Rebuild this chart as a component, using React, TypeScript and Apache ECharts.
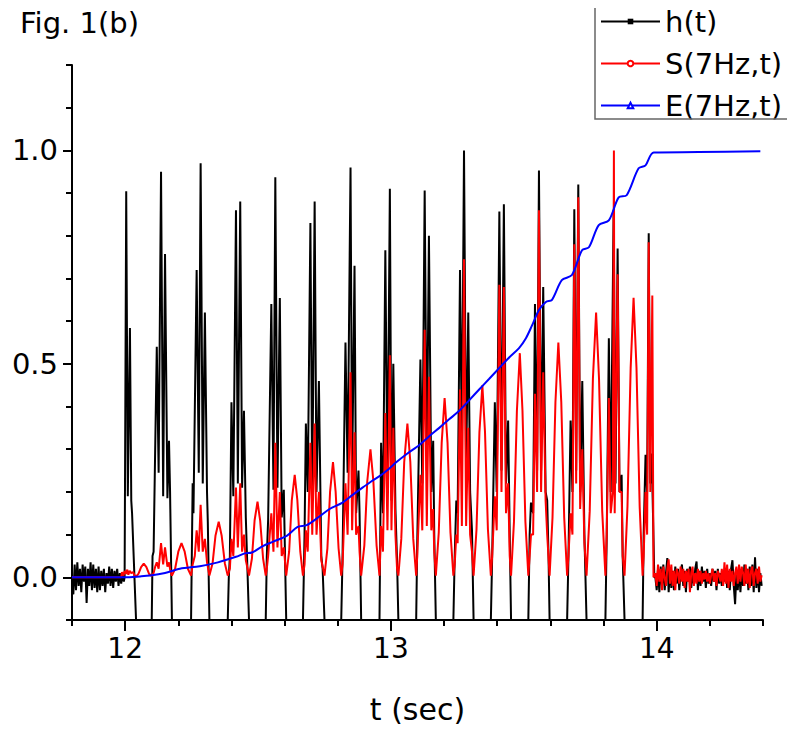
import React, { useEffect, useRef } from 'react';
import * as echarts from 'echarts';

const FONT = 'DejaVu Sans';

// Axis ticks and labels
const xMajorTicks = [12, 13, 14];
const xMinorTicks = [11.8, 12.2, 12.4, 12.6, 12.8, 13.2, 13.4, 13.6, 13.8, 14.2, 14.4];
const yMajorTicks = [0, 0.5, 1.0];
const yMinorTicks = [-0.1, 0.1, 0.2, 0.3, 0.4, 0.6, 0.7, 0.8, 0.9, 1.1, 1.2];

const seriesNames = ['h(t)', 'S(7Hz,t)', 'E(7Hz,t)'];

// sampling step of the noisy stretches (sec)
const NOISE_DT = 0.005;
const hPreNoiseStart = 11.8;
const hPreNoise = [
  0.0, -0.04, 0.03, -0.03, 0.035, -0.02, 0.02, -0.035, 0.03, -0.01,
  0.025, -0.06, 0.02, -0.02, 0.035, -0.03, 0.03, -0.025, 0.02, -0.035,
  0.025, -0.03, 0.015, -0.02, 0.02, -0.035, 0.01, -0.015, 0.025, -0.02,
  0.02, -0.025, 0.015, -0.01, 0.02, -0.02, 0.01, -0.015, 0.005, -0.01,
];

// h(t) bursts: [t, value]
const hBursts = [
  [11.998, 0.0], [12.004, 0.904], [12.010, 0.19], [12.018, 0.584], [12.023, 0.18], [12.026, 0.15], [12.041, -0.1], [12.071, -0.6],
  [12.100, -0.1], [12.103, 0.05], [12.107, 0.06], [12.119, 0.54], [12.126, 0.245], [12.135, 0.95], [12.143, 0.19], [12.150, 0.757], [12.159, 0.185], [12.165, 0.32], [12.169, 0.2], [12.176, -0.1], [12.212, -0.6],
  [12.248, -0.1], [12.254, 0.22], [12.257, 0.15], [12.269, 0.72], [12.277, 0.245], [12.284, 0.97], [12.292, 0.22], [12.300, 0.62], [12.308, 0.2], [12.311, 0.13], [12.317, -0.1], [12.353, -0.6],
  [12.386, -0.1], [12.390, 0.0], [12.394, 0.05], [12.400, 0.41], [12.407, 0.19], [12.417, 0.86], [12.424, 0.22], [12.433, 0.88], [12.440, 0.21], [12.447, 0.39], [12.454, 0.14], [12.466, -0.1], [12.497, -0.6],
  [12.529, -0.1], [12.533, 0.05], [12.538, 0.135], [12.550, 0.64], [12.558, 0.205], [12.565, 0.937], [12.573, 0.21], [12.582, 0.654], [12.589, 0.14], [12.597, 0.205], [12.600, 0.1], [12.606, -0.1], [12.638, -0.6],
  [12.669, -0.1], [12.675, 0.1], [12.680, 0.36], [12.687, 0.2], [12.697, 0.83], [12.704, 0.19], [12.713, 0.88], [12.720, 0.2], [12.729, 0.46], [12.738, 0.05], [12.743, 0.02], [12.750, -0.1], [12.780, -0.6],
  [12.813, -0.1], [12.818, 0.05], [12.829, 0.55], [12.837, 0.245], [12.848, 0.96], [12.854, 0.23], [12.863, 0.73], [12.869, 0.15], [12.878, 0.25], [12.882, 0.15], [12.888, -0.1], [12.923, -0.6],
  [12.957, -0.1], [12.963, 0.315], [12.970, 0.15], [12.979, 0.766], [12.987, 0.2], [12.996, 0.91], [13.002, 0.18], [13.009, 0.5], [13.017, 0.16], [13.023, 0.04], [13.028, -0.1], [13.062, -0.6],
  [13.095, -0.1], [13.099, 0.08], [13.111, 0.51], [13.118, 0.22], [13.127, 0.906], [13.135, 0.25], [13.143, 0.8], [13.152, 0.2], [13.159, 0.32], [13.163, 0.1], [13.169, -0.1], [13.203, -0.6],
  [13.235, -0.1], [13.240, 0.05], [13.246, 0.18], [13.251, 0.15], [13.260, 0.72], [13.267, 0.3], [13.275, 1.0], [13.283, 0.25], [13.291, 0.62], [13.298, 0.2], [13.305, 0.11], [13.311, -0.1], [13.343, -0.6],
  [13.376, -0.1], [13.381, 0.05], [13.391, 0.41], [13.398, 0.2], [13.408, 0.857], [13.416, 0.25], [13.425, 0.874], [13.433, 0.22], [13.441, 0.367], [13.447, 0.1], [13.452, -0.1], [13.486, -0.6],
  [13.517, -0.1], [13.522, 0.1], [13.527, 0.175], [13.535, 0.15], [13.542, 0.64], [13.550, 0.25], [13.557, 0.953], [13.565, 0.25], [13.573, 0.68], [13.582, 0.2], [13.588, 0.18], [13.593, 0.05], [13.597, -0.1], [13.630, -0.6],
  [13.663, -0.1], [13.668, 0.05], [13.676, 0.367], [13.683, 0.2], [13.690, 0.862], [13.697, 0.25], [13.705, 0.92], [13.712, 0.2], [13.720, 0.46], [13.728, 0.1], [13.736, -0.1], [13.771, -0.6],
  [13.807, -0.1], [13.812, 0.1], [13.820, 0.56], [13.827, 0.2], [13.838, 0.86], [13.845, 0.22], [13.853, 0.77], [13.860, 0.2], [13.868, 0.24], [13.872, 0.05], [13.879, -0.1], [13.912, -0.6],
  [13.947, -0.1], [13.951, 0.1], [13.958, 0.287], [13.964, 0.2], [13.970, 0.806], [13.976, 0.22], [13.981, 0.29], [13.985, 0.18], [13.991, 0.0],
];

const postNoiseStart = 13.995;
const hPostNoise = [
  0.0, -0.03, 0.02, -0.035, 0.025, -0.02, 0.03, -0.03, 0.01, 0.045,
  -0.035, 0.02, -0.025, 0.015, -0.03, 0.025, -0.015, 0.02, -0.03, 0.01,
  0.03, -0.02, 0.015, -0.035, 0.02, -0.01, 0.025, -0.025, 0.01, -0.015,
  0.02, 0.037, -0.03, 0.015, -0.02, 0.025, -0.01, 0.015, -0.025, 0.02,
  -0.015, 0.01, -0.02, 0.02, -0.01, 0.015, -0.03, 0.02, -0.015, 0.01,
  -0.02, 0.015, -0.01, 0.02, -0.025, 0.015, -0.03, 0.02, 0.04, -0.02,
  -0.063, 0.01, -0.03, 0.02, -0.035, 0.015, -0.02, 0.03, -0.015, 0.02,
  -0.03, 0.025, -0.02, 0.03, -0.035, 0.047, -0.025, 0.02, -0.035, 0.01,
  -0.02,
];

// S(7Hz,t): [t, value]
const sMain = [
  [11.8, 0.0], [11.985, 0.0], [11.988, 0.012], [11.994, 0.004], [11.998, 0.015], [12.003, 0.008], [12.008, 0.018], [12.012, 0.006], [12.017, 0.015], [12.023, 0.01], [12.030, 0.012], [12.036, 0.004], [12.041, 0.002],
  [12.050, 0.008], [12.060, 0.024], [12.070, 0.032], [12.080, 0.024], [12.090, 0.008], [12.100, 0.003],
  [12.107, 0.01], [12.113, 0.025], [12.119, 0.035], [12.126, 0.02], [12.135, 0.08], [12.143, 0.03], [12.150, 0.07], [12.159, 0.025], [12.165, 0.035], [12.170, 0.015], [12.176, 0.004],
  [12.188, 0.02], [12.200, 0.06], [12.212, 0.08], [12.224, 0.06], [12.236, 0.02], [12.248, 0.004],
  [12.254, 0.03], [12.262, 0.05], [12.269, 0.11], [12.277, 0.06], [12.284, 0.17], [12.292, 0.06], [12.300, 0.09], [12.308, 0.035], [12.317, 0.004],
  [12.329, 0.033], [12.340, 0.098], [12.352, 0.13], [12.363, 0.098], [12.375, 0.033], [12.386, 0.004],
  [12.394, 0.02], [12.400, 0.09], [12.407, 0.05], [12.417, 0.21], [12.424, 0.07], [12.433, 0.22], [12.440, 0.06], [12.447, 0.1], [12.454, 0.04], [12.466, 0.004],
  [12.477, 0.044], [12.487, 0.133], [12.498, 0.177], [12.508, 0.133], [12.519, 0.044], [12.529, 0.004],
  [12.533, 0.02], [12.538, 0.05], [12.550, 0.15], [12.558, 0.06], [12.565, 0.315], [12.573, 0.07], [12.582, 0.2], [12.589, 0.05], [12.597, 0.07], [12.606, 0.004],
  [12.617, 0.06], [12.627, 0.18], [12.638, 0.24], [12.648, 0.18], [12.659, 0.06], [12.669, 0.004],
  [12.675, 0.03], [12.680, 0.11], [12.687, 0.06], [12.697, 0.315], [12.704, 0.1], [12.713, 0.36], [12.720, 0.1], [12.729, 0.2], [12.738, 0.04], [12.750, 0.004],
  [12.761, 0.068], [12.771, 0.2], [12.782, 0.27], [12.792, 0.2], [12.803, 0.068], [12.813, 0.004],
  [12.818, 0.03], [12.829, 0.22], [12.837, 0.1], [12.848, 0.48], [12.854, 0.11], [12.863, 0.34], [12.869, 0.1], [12.878, 0.12], [12.882, 0.06], [12.888, 0.004],
  [12.900, 0.075], [12.911, 0.225], [12.923, 0.30], [12.934, 0.225], [12.946, 0.075], [12.957, 0.004],
  [12.963, 0.12], [12.970, 0.06], [12.979, 0.385], [12.987, 0.11], [12.996, 0.52], [13.002, 0.11], [13.009, 0.35], [13.017, 0.1], [13.023, 0.02], [13.028, 0.004],
  [13.039, 0.09], [13.050, 0.27], [13.062, 0.36], [13.073, 0.27], [13.084, 0.09], [13.095, 0.004],
  [13.099, 0.05], [13.111, 0.24], [13.118, 0.11], [13.127, 0.58], [13.135, 0.12], [13.143, 0.47], [13.152, 0.11], [13.159, 0.16], [13.163, 0.06], [13.169, 0.004],
  [13.180, 0.105], [13.191, 0.315], [13.202, 0.42], [13.213, 0.315], [13.224, 0.105], [13.235, 0.004],
  [13.240, 0.03], [13.246, 0.1], [13.251, 0.08], [13.260, 0.44], [13.267, 0.12], [13.275, 0.745], [13.283, 0.12], [13.291, 0.35], [13.298, 0.1], [13.305, 0.06], [13.311, 0.004],
  [13.322, 0.112], [13.333, 0.34], [13.344, 0.45], [13.354, 0.34], [13.365, 0.112], [13.376, 0.004],
  [13.381, 0.05], [13.391, 0.19], [13.398, 0.11], [13.408, 0.685], [13.416, 0.2], [13.425, 0.68], [13.433, 0.15], [13.441, 0.22], [13.447, 0.05], [13.452, 0.004],
  [13.463, 0.13], [13.474, 0.39], [13.485, 0.525], [13.495, 0.39], [13.506, 0.13], [13.517, 0.004],
  [13.522, 0.05], [13.527, 0.1], [13.535, 0.1], [13.542, 0.43], [13.550, 0.2], [13.557, 0.86], [13.565, 0.2], [13.573, 0.48], [13.582, 0.18], [13.588, 0.1], [13.597, 0.004],
  [13.608, 0.14], [13.619, 0.41], [13.630, 0.55], [13.641, 0.41], [13.652, 0.14], [13.663, 0.004],
  [13.668, 0.05], [13.676, 0.15], [13.683, 0.1], [13.690, 0.78], [13.697, 0.22], [13.705, 0.89], [13.712, 0.16], [13.720, 0.3], [13.728, 0.08], [13.736, 0.004],
  [13.748, 0.155], [13.760, 0.465], [13.772, 0.62], [13.783, 0.465], [13.795, 0.155], [13.807, 0.004],
  [13.812, 0.1], [13.820, 0.42], [13.827, 0.15], [13.835, 0.2], [13.839, 1.0], [13.842, 0.15], [13.853, 0.71], [13.860, 0.2], [13.868, 0.2], [13.872, 0.05], [13.879, 0.004],
  [13.890, 0.165], [13.902, 0.49], [13.913, 0.655], [13.924, 0.49], [13.936, 0.165], [13.947, 0.004],
  [13.951, 0.05], [13.958, 0.2], [13.964, 0.1], [13.970, 0.785], [13.976, 0.2], [13.9835, 0.66], [13.988, 0.0],
];

const sPostNoise = [
  0.01, -0.02, 0.03, -0.01, 0.02, -0.03, 0.025, 0.0, -0.02, 0.02,
  0.042, -0.015, 0.03, -0.02, 0.015, -0.03, 0.02, 0.01, -0.015, 0.025,
  -0.01, 0.02, -0.025, 0.015, -0.01, 0.02, -0.035, 0.01, 0.025, -0.02,
  0.01, -0.015, 0.02, -0.01, 0.015, -0.015, 0.01, -0.005, 0.015, -0.01,
  0.01, -0.015, 0.005, 0.02, -0.01, 0.01, -0.02, 0.015, 0.005, -0.01,
  0.02, -0.02, 0.035, -0.015, 0.03, -0.025, 0.02, -0.01, 0.015, -0.02,
  0.01, 0.025, -0.015, 0.03, -0.01, 0.025, 0.01, -0.02, 0.03, -0.015,
  0.02, -0.025, 0.015, 0.025, -0.02, 0.01, 0.02, -0.015, 0.025, -0.01,
  0.005,
];

// E(7Hz,t): [t, value]
const eCurve = [
  [11.8, 0.0], [12.0, 0.0], [12.056, 0.002], [12.094, 0.004], [12.150, 0.01], [12.206, 0.02],
  [12.281, 0.026], [12.349, 0.035], [12.417, 0.048], [12.450, 0.056], [12.477, 0.058], [12.518, 0.073],
  [12.555, 0.083], [12.608, 0.097], [12.649, 0.118], [12.683, 0.122], [12.732, 0.143], [12.769, 0.16],
  [12.818, 0.175], [12.856, 0.193], [12.893, 0.21], [12.927, 0.225], [12.964, 0.24], [12.994, 0.255],
  [13.021, 0.27], [13.062, 0.29], [13.107, 0.31], [13.143, 0.33], [13.182, 0.35], [13.219, 0.37],
  [13.257, 0.39], [13.295, 0.415], [13.332, 0.44], [13.370, 0.465], [13.407, 0.49], [13.445, 0.515],
  [13.482, 0.537], [13.508, 0.56], [13.531, 0.59], [13.557, 0.626], [13.583, 0.645], [13.606, 0.65],
  [13.643, 0.696], [13.681, 0.708], [13.719, 0.766], [13.745, 0.773], [13.782, 0.825], [13.820, 0.836],
  [13.857, 0.89], [13.887, 0.895], [13.932, 0.958], [13.958, 0.965], [13.989, 0.995], [14.158, 0.996],
  [14.390, 0.998],
];

const sampled = (start: number, values: number[]) =>
  values.map((v, i) => [Number((start + i * NOISE_DT).toFixed(4)), v]);

const hData = [...sampled(hPreNoiseStart, hPreNoise), ...hBursts, ...sampled(postNoiseStart, hPostNoise)];
const sData = [...sMain, ...sampled(postNoiseStart, sPostNoise)];
const eData = eCurve;

const axisBase = {
  type: 'value' as const,
  min: 11.8,
  max: 14.4,
  splitLine: { show: false },
};

const LINE_W = 2;

const option: any = {
  animation: false,
  backgroundColor: '#ffffff',
  title: {
    text: 'Fig. 1(b)',
    left: 15,
    top: 3,
    textStyle: { fontFamily: FONT, fontSize: 29, fontWeight: 'normal', color: '#000' },
  },
  legend: {
    orient: 'vertical',
    left: 595,
    top: 2,
    padding: 5,
    itemWidth: 59,
    itemHeight: 7,
    itemGap: 13,
    selectedMode: false,
    data: seriesNames,
    textStyle: { fontFamily: FONT, fontSize: 29, color: '#000' },
  },
  grid: { left: 72, right: 32, top: 65, bottom: 116, containLabel: false, outerBoundsMode: 'none' },
  xAxis: [
    {
      ...axisBase,
      position: 'bottom',
      axisLine: { show: true, onZero: false, lineStyle: { color: '#000', width: 2 } },
      axisTick: { show: true, customValues: xMajorTicks, length: 11, lineStyle: { color: '#000', width: 2 } },
      axisLabel: {
        customValues: xMajorTicks,
        margin: 14,
        formatter: (v: number) => String(Math.round(v)),
        fontFamily: FONT,
        fontSize: 28,
        color: '#000',
      },
      name: 't (sec)',
      nameLocation: 'middle',
      nameGap: 74,
      nameTextStyle: { fontFamily: FONT, fontSize: 30, color: '#000' },
    },
    {
      ...axisBase,
      position: 'bottom',
      axisLine: { show: false, onZero: false },
      axisTick: { show: true, customValues: xMinorTicks, length: 6, lineStyle: { color: '#000', width: 2 } },
      axisLabel: { show: false },
    },
  ],
  yAxis: [
    {
      type: 'value',
      min: -0.1,
      max: 1.2,
      position: 'left',
      splitLine: { show: false },
      axisLine: { show: true, onZero: false, lineStyle: { color: '#000', width: 2 } },
      axisTick: { show: true, customValues: yMajorTicks, length: 9, lineStyle: { color: '#000', width: 2 } },
      axisLabel: {
        customValues: yMajorTicks,
        margin: 14,
        formatter: (v: number) => v.toFixed(1),
        fontFamily: FONT,
        fontSize: 29,
        color: '#000',
      },
    },
    {
      type: 'value',
      min: -0.1,
      max: 1.2,
      position: 'left',
      splitLine: { show: false },
      axisLine: { show: false, onZero: false },
      axisTick: { show: true, customValues: yMinorTicks, length: 6, lineStyle: { color: '#000', width: 2 } },
      axisLabel: { show: false },
    },
  ],
  graphic: [
    {
      type: 'rect',
      silent: true,
      z: 100,
      shape: { x: 788, y: 0, width: 10, height: 125 },
      style: { fill: '#ffffff' },
    },
    {
      type: 'polyline',
      silent: true,
      z: 101,
      shape: { points: [[595, 8], [595, 119], [787, 119]] },
      style: { stroke: '#666', lineWidth: 1.5, fill: null },
    },
  ],
  series: [
    {
      name: seriesNames[0],
      type: 'line',
      xAxisIndex: 0,
      yAxisIndex: 0,
      data: hData,
      showSymbol: false,
      symbol: 'rect',
      color: '#000000',
      lineStyle: { color: '#000000', width: LINE_W },
      silent: true,
      clip: true,
    },
    {
      name: seriesNames[1],
      type: 'line',
      xAxisIndex: 0,
      yAxisIndex: 0,
      data: sData,
      showSymbol: false,
      symbol: 'emptyCircle',
      color: '#ff0000',
      lineStyle: { color: '#ff0000', width: LINE_W },
      silent: true,
      clip: true,
    },
    {
      name: seriesNames[2],
      type: 'line',
      xAxisIndex: 0,
      yAxisIndex: 0,
      data: eData,
      showSymbol: false,
      symbol: 'emptyTriangle',
      smooth: 0.3,
      color: '#0000ff',
      lineStyle: { color: '#0000ff', width: LINE_W },
      silent: true,
      clip: true,
    },
  ],
};

export default function App() {
  const ref = useRef<HTMLDivElement>(null);
  useEffect(() => {
    if (!ref.current) return;
    const chart = echarts.init(ref.current, null, { renderer: 'svg' });
    chart.setOption(option);
    return () => chart.dispose();
  }, []);
  return (
    <div
      ref={ref}
      style={{ position: 'absolute', left: 0, top: 0, width: 795, height: 736, background: '#fff' }}
    />
  );
}
